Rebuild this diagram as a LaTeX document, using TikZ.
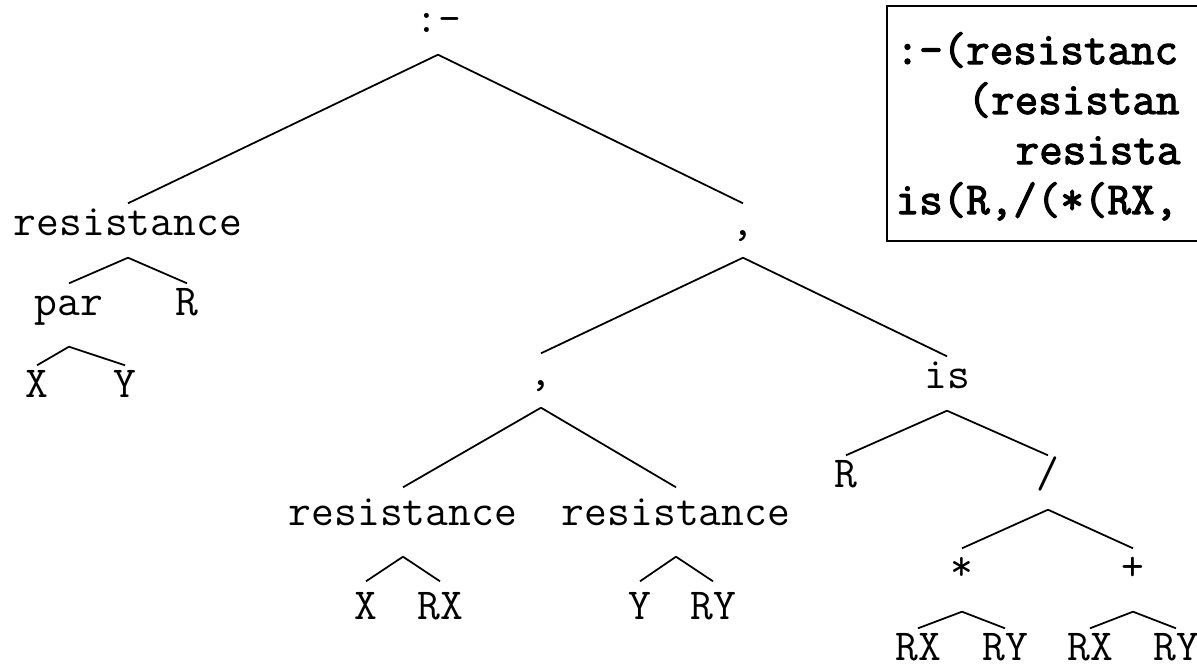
\documentclass[tikz,border=0pt]{standalone}
\usepackage{fontspec}
\usepackage{tikz}
\newfontfamily\codefont[FakeBold=2.5]{Latin Modern Mono}

\begin{document}
\begin{tikzpicture}[
  term/.style={font=\ttfamily\fontsize{12.6}{15}\selectfont, anchor=base,
    inner sep=0pt, text height=0.31cm, text depth=0.22cm},
  low/.style={text depth=0.31cm},
  high/.style={text height=0.37cm},
  branch/.style={line width=0.5pt},
  codeline/.style={font=\codefont\fontsize{13}{15}\selectfont,
    anchor=base west, inner sep=0pt},
  codeframe/.style={line width=0.8pt},
]
\useasboundingbox (0,0) rectangle (11.97,6.66);
\clip (0,0) rectangle (11.97,6.66);

% the term tree
\node [term] (top) at (4.38,6.34) {:-};

\node [term] (res1) at (1.28,4.31) {resistance};
\node [term] (com1) at (7.43,4.31) {,};

\node [term, low] (par) at (0.69,3.51) {par};
\node [term] (R1) at (1.87,3.51) {R};
\node [term] (X1) at (0.37,2.69) {X};
\node [term] (Y1) at (1.25,2.69) {Y};

\node [term] (com2) at (5.41,2.81) {,};
\node [term] (is) at (9.47,2.78) {is};

\node [term, low, high] (res2) at (4.03,1.41) {resistance};
\node [term, low, high] (res3) at (6.76,1.41) {resistance};
\node [term, high] (X2) at (3.66,0.47) {X};
\node [term, high] (RX1) at (4.40,0.47) {RX};
\node [term, high] (Y2) at (6.40,0.47) {Y};
\node [term, high] (RY1) at (7.13,0.47) {RY};

\node [term] (R2) at (8.46,1.79) {R};
\node [term] (slash) at (10.48,1.79) {/};
\node [term, low] (star) at (9.62,0.86) {*};
\node [term, low] (plus) at (11.33,0.86) {+};
\node [term] (RX2) at (9.18,0.06) {RX};
\node [term] (RY2) at (10.05,0.06) {RY};
\node [term] (RX3) at (10.90,0.06) {RX};
\node [term] (RY3) at (11.76,0.06) {RY};

\draw [branch] (top.south) -- (res1.north);
\draw [branch] (top.south) -- (com1.north);
\draw [branch] (res1.south) -- (par.north);
\draw [branch] (res1.south) -- (R1.north);
\draw [branch] (par.south) -- (X1.north);
\draw [branch] (par.south) -- (Y1.north);
\draw [branch] (com1.south) -- (com2.north);
\draw [branch] (com1.south) -- (is.north);
\draw [branch] (com2.south) -- (res2.north);
\draw [branch] (com2.south) -- (res3.north);
\draw [branch] (res2.south) -- (X2.north);
\draw [branch] (res2.south) -- (RX1.north);
\draw [branch] (res3.south) -- (Y2.north);
\draw [branch] (res3.south) -- (RY1.north);
\draw [branch] (is.south) -- (R2.north);
\draw [branch] (is.south) -- (slash.north);
\draw [branch] (slash.south) -- (star.north);
\draw [branch] (slash.south) -- (plus.north);
\draw [branch] (star.south) -- (RX2.north);
\draw [branch] (star.south) -- (RY2.north);
\draw [branch] (plus.south) -- (RX3.north);
\draw [branch] (plus.south) -- (RY3.north);

% the clause, cut off at the right
\draw [codeframe] (12.4,6.60) -- (8.87,6.60) -- (8.87,4.25) -- (12.4,4.25);
\node [codeline] (codeA) at (8.95,6.02) {:-(resistanc};
\node [codeline] (codeB) at (9.67,5.52) {(resistan};
\node [codeline] (codeC) at (10.15,5.02) {resista};
\node [codeline] (codeD) at (8.95,4.52) {is(R,/(*(RX,};

\end{tikzpicture}
\end{document}
